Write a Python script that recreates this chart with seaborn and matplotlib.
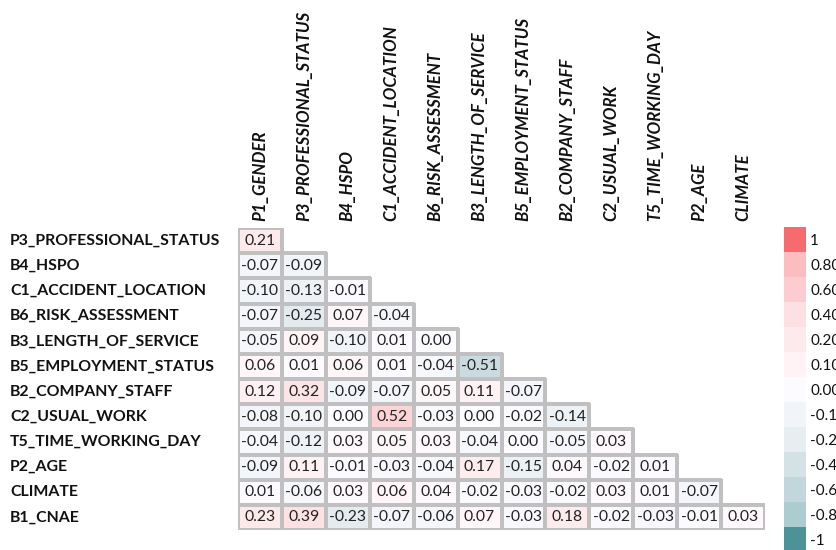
import numpy as np
import pandas as pd
import matplotlib
matplotlib.use("Agg")
import matplotlib.pyplot as plt
from matplotlib.colors import LinearSegmentedColormap
import seaborn as sns

row_labels = ["P3_PROFESSIONAL_STATUS", "B4_HSPO", "C1_ACCIDENT_LOCATION",
              "B6_RISK_ASSESSMENT", "B3_LENGTH_OF_SERVICE", "B5_EMPLOYMENT_STATUS",
              "B2_COMPANY_STAFF", "C2_USUAL_WORK", "T5_TIME_WORKING_DAY",
              "P2_AGE", "CLIMATE", "B1_CNAE"]
col_labels = ["P1_GENDER", "P3_PROFESSIONAL_STATUS", "B4_HSPO", "C1_ACCIDENT_LOCATION",
              "B6_RISK_ASSESSMENT", "B3_LENGTH_OF_SERVICE", "B5_EMPLOYMENT_STATUS",
              "B2_COMPANY_STAFF", "C2_USUAL_WORK", "T5_TIME_WORKING_DAY",
              "P2_AGE", "CLIMATE"]

# lower-triangle correlations, one list per row
corr_rows = [
    [0.21],
    [-0.07, -0.09],
    [-0.10, -0.13, -0.01],
    [-0.07, -0.25, 0.07, -0.04],
    [-0.05, 0.09, -0.10, 0.01, 0.00],
    [0.06, 0.01, 0.06, 0.01, -0.04, -0.51],
    [0.12, 0.32, -0.09, -0.07, 0.05, 0.11, -0.07],
    [-0.08, -0.10, 0.00, 0.52, -0.03, 0.00, -0.02, -0.14],
    [-0.04, -0.12, 0.03, 0.05, 0.03, -0.04, 0.00, -0.05, 0.03],
    [-0.09, 0.11, -0.01, -0.03, -0.04, 0.17, -0.15, 0.04, -0.02, 0.01],
    [0.01, -0.06, 0.03, 0.06, 0.04, -0.02, -0.03, -0.02, 0.03, 0.01, -0.07],
    [0.23, 0.39, -0.23, -0.07, -0.06, 0.07, -0.03, 0.18, -0.02, -0.03, -0.01, 0.03],
]

# legend scale steps and their colours
scale_values = [1, 0.80, 0.60, 0.40, 0.20, 0.10, 0.00, -0.10, -0.20, -0.40, -0.60, -0.80, -1]
scale_labels = ["1", "0.80", "0.60", "0.40", "0.20", "0.10", "0.00",
                "-0.10", "-0.20", "-0.40", "-0.60", "-0.80", "-1"]
scale_colors = ["#f66b6e", "#fbbfc2", "#fbcdd0", "#fde0e2", "#fdeaec", "#fff3f5", "#fcfbff",
                "#f1f4f9", "#e7eef2", "#d4e1e5", "#c2d7dc", "#afcdd1", "#4d9298"]

n = len(row_labels)
mat = np.full((n, len(col_labels)), np.nan)
for i, r in enumerate(corr_rows):
    mat[i, :len(r)] = r
df = pd.DataFrame(mat, index=row_labels, columns=col_labels)

anchors = sorted(zip(scale_values, scale_colors))
cmap = LinearSegmentedColormap.from_list(
    "corr", [((v + 1) / 2, c) for v, c in anchors])

sns.set_theme(style="white")
plt.rcParams["font.family"] = ["Lato", "DejaVu Sans"]

W, H = 837, 550
fig = plt.figure(figsize=(W / 100, H / 100), dpi=100)
ax = fig.add_axes([238 / W, 1 - 530 / H, (765 - 238) / W, (530 - 228) / H])

sns.heatmap(df, ax=ax, cmap=cmap, vmin=-1, vmax=1, mask=df.isna(),
            annot=True, fmt=".2f", annot_kws={"size": 11.3, "color": "#222222"},
            linewidths=1.6, linecolor="#c0c0c0", cbar=False, square=False)

# only outline the filled (lower-triangle) cells
mesh = ax.collections[0]
empty = df.isna().to_numpy().ravel()
edge = np.tile(matplotlib.colors.to_rgba("#c0c0c0"), (empty.size, 1))
edge[empty] = (0, 0, 0, 0)
mesh.set_edgecolors(edge)
# draw outlined cells after blank ones so their borders stay on top
mesh.set_zorder(2)

ax.xaxis.tick_top()
ax.set_xticklabels(col_labels, rotation=90, fontsize=12.2, fontweight="bold",
                   fontstyle="italic", color="#111111")
ax.set_yticklabels(row_labels, rotation=0, fontsize=11.4, fontweight="bold", color="#111111")
ax.tick_params(axis="both", length=0)
ax.tick_params(axis="x", pad=5)
ax.tick_params(axis="y", pad=(238 - 10) * 0.72)
for t in ax.get_yticklabels():
    t.set_horizontalalignment("left")
ax.set_xlabel("")
ax.set_ylabel("")

# stepped legend scale
cax = fig.add_axes([784 / W, 1 - 552 / H, 22 / W, 325 / H])
scale_df = pd.DataFrame({"v": scale_values}, index=scale_labels)
sns.heatmap(scale_df, ax=cax, cmap=cmap, vmin=-1, vmax=1, cbar=False,
            xticklabels=False, yticklabels=True)
cax.yaxis.tick_right()
cax.set_yticklabels(scale_labels, rotation=0, fontsize=11, color="#111111")
cax.tick_params(axis="y", length=0, pad=3)
cax.set_ylabel("")

fig.savefig("out.png", dpi=100)
